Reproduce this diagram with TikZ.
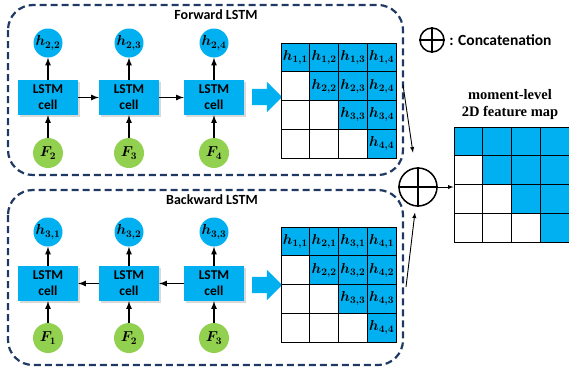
\documentclass[tikz,border=0pt]{standalone}
\usepackage{fontspec}
\setsansfont{Carlito}
\newfontfamily\titleserif{Liberation Serif}
\usepackage{amsmath}
\usepackage{bm}
\usetikzlibrary{arrows,shapes,positioning,shadows}

\definecolor{cellblue}{RGB}{0,176,240}
\definecolor{inputgreen}{RGB}{146,208,80}
\definecolor{groupnavy}{RGB}{31,56,100}

\tikzset{
  lstm/.style={rectangle,fill=cellblue,minimum width=60pt,minimum height=35pt,inner sep=0pt,
    align=center,font=\sffamily\bfseries\fontsize{13.5}{16}\selectfont,
    drop shadow={shadow xshift=1.5pt,shadow yshift=-1.5pt,opacity=0.3}},
  hidden/.style={circle,fill=cellblue,minimum size=29pt,inner sep=0pt,font=\fontsize{14.5}{16}\selectfont},
  input/.style={circle,fill=inputgreen,minimum size=30pt,inner sep=0pt,font=\fontsize{14.5}{16}\selectfont},
  flow/.style={-latex,line width=1.6pt},
  thinflow/.style={-latex,line width=0.9pt},
  group/.style={draw=groupnavy,line width=2.2pt,dash pattern=on 7pt off 4pt,rounded corners=25pt},
  grouptitle/.style={font=\sffamily\bfseries\fontsize{14}{16}\selectfont},
  mcell/.style={rectangle,draw=black,line width=1pt,minimum size=28.75pt,inner sep=0pt,
    font=\fontsize{14}{15}\selectfont},
  bigarrow/.style={single arrow,fill=cellblue,minimum height=30pt,minimum width=30pt,
    single arrow head extend=7pt,inner sep=8pt,anchor=center},
  catsym/.style={circle,draw=black,line width=1.5pt,inner sep=0pt}
}

\begin{document}
\begin{tikzpicture}[x=1pt,y=-1pt]
  \useasboundingbox (0,0) rectangle (569,370);

  % forward branch
  \draw[group] (8,5) rectangle (403,175);
  \node[grouptitle] (fwtitle) at (216,15) {Forward LSTM};
  \foreach \k/\x/\t in {1/48/2,2/129/3,3/214/4} {
    \node[hidden] (fwh\k) at (\x,43) {$\bm{h}_{\bm{2,\t}}$};
    \node[lstm] (fwc\k) at (\x,97.5) {LSTM\\cell};
    \node[input] (fwf\k) at (\x,153) {$\bm{F}_{\bm{\t}}$};
    \draw[flow] (fwc\k) -- (fwh\k);
    \draw[flow] (fwf\k) -- (fwc\k);
  }
  \draw[flow] (fwc1) -- (fwc2);
  \draw[flow] (fwc2) -- (fwc3);
  \node[bigarrow] (fwarrow) at (263,97) {};

  % forward hidden-state map
  \foreach \i in {1,...,4}
    \foreach \j in {1,...,4} {
      \ifnum\j<\i
        \node[mcell] (fw-\i-\j) at ({281+28.75*(\j-0.5)},{43+28.75*(\i-0.5)}) {};
      \else
        \node[mcell,fill=cellblue] (fw-\i-\j) at ({281+28.75*(\j-0.5)},{43+28.75*(\i-0.5)}) {$\bm{h}_{\bm{\i,\j}}$};
      \fi
    }

  % backward branch
  \draw[group] (8,190) rectangle (403,365);
  \node[grouptitle] (bwtitle) at (212,200) {Backward LSTM};
  \foreach \k/\x in {1/48,2/129,3/214} {
    \node[hidden] (bwh\k) at (\x,232) {$\bm{h}_{\bm{3,\k}}$};
    \node[lstm] (bwc\k) at (\x,283.5) {LSTM\\cell};
    \node[input] (bwf\k) at (\x,338) {$\bm{F}_{\bm{\k}}$};
    \draw[flow] (bwc\k) -- (bwh\k);
    \draw[flow] (bwf\k) -- (bwc\k);
  }
  \draw[flow] (bwc3) -- (bwc2);
  \draw[flow] (bwc2) -- (bwc1);
  \node[bigarrow] (bwarrow) at (263,285) {};

  % backward hidden-state map
  \foreach \i in {1,...,4}
    \foreach \j in {1,...,4} {
      \ifnum\j<\i
        \node[mcell] (bw-\i-\j) at ({281+28.75*(\j-0.5)},{227+28.75*(\i-0.5)}) {};
      \else
        \node[mcell,fill=cellblue] (bw-\i-\j) at ({281+28.75*(\j-0.5)},{227+28.75*(\i-0.5)}) {$\bm{h}_{\bm{\j,\i}}$};
      \fi
    }

  % concatenation
  \node[catsym,minimum size=38pt] (cat) at (418,187) {};
  \draw[line width=1.5pt] (cat.north) -- (cat.south) (cat.west) -- (cat.east);
  \coordinate (fwout) at (403,85);
  \coordinate (bwout) at (406,287);
  \draw[thinflow,shorten >=15pt] (fwout) -- (cat);
  \draw[thinflow,shorten >=6pt] (bwout) -- (cat);

  % legend
  \node[catsym,minimum size=24pt] (legcat) at (432,40) {};
  \draw[line width=1.2pt] (legcat.north) -- (legcat.south) (legcat.west) -- (legcat.east);
  \node[right=1pt of legcat,font=\sffamily\bfseries\fontsize{15.5}{18}\selectfont] (legtext) {: Concatenation};

  % moment-level map
  \node[align=center,font=\titleserif\bfseries\fontsize{14.5}{17}\selectfont] (maptitle) at (510,105)
    {moment-level\\2D feature map};
  \foreach \i in {1,...,4}
    \foreach \j in {1,...,4} {
      \ifnum\j<\i
        \node[mcell] (map-\i-\j) at ({454+28.75*(\j-0.5)},{127+28.75*(\i-0.5)}) {};
      \else
        \node[mcell,fill=cellblue] (map-\i-\j) at ({454+28.75*(\j-0.5)},{127+28.75*(\i-0.5)}) {};
      \fi
    }
  \draw[thinflow] (cat.east) -- (cat.east -| map-2-1.west);
\end{tikzpicture}
\end{document}
